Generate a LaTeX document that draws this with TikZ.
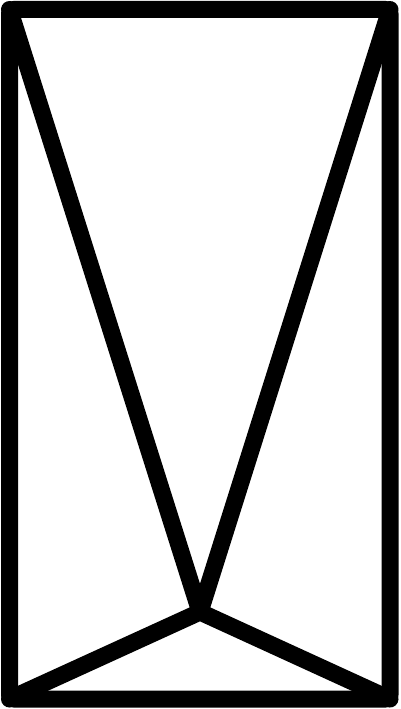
\documentclass[tikz,border=0pt]{standalone}
\usetikzlibrary{positioning}
\tikzset{
    % thick black strokes
    rand/.style={
           draw=black,
           line width=17pt,
           line join=round,
           line cap=round},
    strahl/.style={
           rand}
}
\begin{document}
\begin{tikzpicture}[x=1pt, y=-1pt]
	\useasboundingbox (0,0) rectangle (400,709);
	%
	% Ecken
	%
	\coordinate (ol) at (9.5,9.5);
	\coordinate (or) at (390,9.5);
	\coordinate (ul) at (9.5,699);
	\coordinate (ur) at (390,699);
	\coordinate (mitte) at (200,612);
	%
	% Linien
	%
	\draw[rand, rounded corners=4pt] (ol) -- (or) -- (ur) -- (ul) -- cycle;
	\draw[strahl] (ol) -- (mitte) -- (or);
	\draw[strahl] (ul) -- (mitte) -- (ur);
\end{tikzpicture}
\end{document}
